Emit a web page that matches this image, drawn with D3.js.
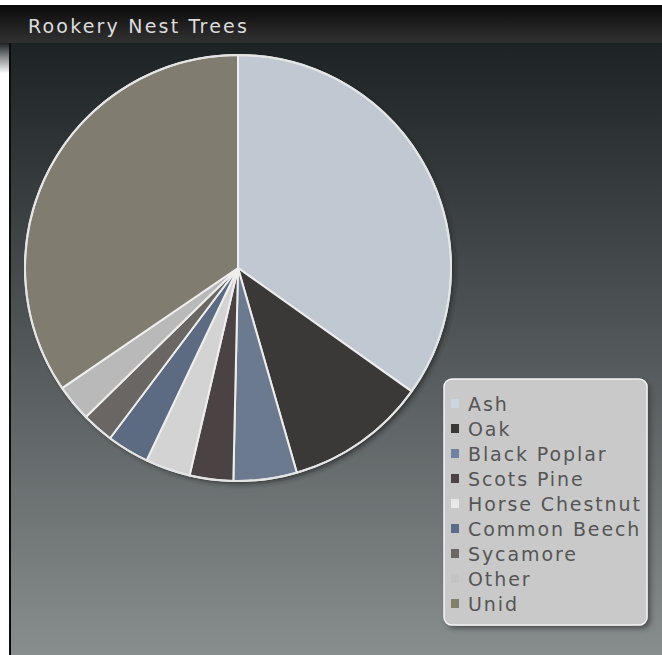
<!DOCTYPE html>
<html><head><meta charset="utf-8">
<script src="https://cdn.jsdelivr.net/npm/d3@7"></script>
<style>html,body{margin:0;padding:0;background:#fff;overflow:hidden}</style>
</head><body>
<svg id="c" width="662" height="655"></svg>
<script>
const categories = ["Ash","Oak","Black Poplar","Scots Pine","Horse Chestnut","Common Beech","Sycamore","Other","Unid"];
const values = [34.8,10.7,4.8,3.3,3.4,3.2,2.4,2.8,34.5];
const colors = ["#c0c9d1","#3b3937","#6b7a8e","#4a4243","#d3d3d3","#5c6b82","#6a6664","#b9b9b9","#807c6f"];
const swatchColors = ["#cbd6e2","#3a3836","#6f80a0","#4a4243","#e8e8e8","#5c6b8a","#6a6664","#c4c4c4","#827e6c"];
const title = "Rookery Nest Trees";

const svg = d3.select("#c");
const defs = svg.append("defs");
const tg = defs.append("linearGradient").attr("id","tg").attr("x1",0).attr("y1",0).attr("x2",0).attr("y2",1);
tg.append("stop").attr("offset","0").attr("stop-color","#0a0a0a");
tg.append("stop").attr("offset","0.85").attr("stop-color","#2c2c2c");
tg.append("stop").attr("offset","1").attr("stop-color","#303030");
const pg = defs.append("linearGradient").attr("id","pg").attr("x1",0).attr("y1",0).attr("x2",0).attr("y2",1);
pg.append("stop").attr("offset","0").attr("stop-color","#1d2225");
pg.append("stop").attr("offset","1").attr("stop-color","#888d8e");
const lg = defs.append("linearGradient").attr("id","lg").attr("x1",0).attr("y1",0).attr("x2",0).attr("y2",1);
lg.append("stop").attr("offset","0").attr("stop-color","#1d2225");
lg.append("stop").attr("offset","0.05").attr("stop-color","#ffffff");
lg.append("stop").attr("offset","1").attr("stop-color","#ffffff");
const f = defs.append("filter").attr("id","sh").attr("x","-20%").attr("y","-20%").attr("width","140%").attr("height","140%");
f.append("feDropShadow").attr("dx",3).attr("dy",3).attr("stdDeviation",2.5).attr("flood-color","#222").attr("flood-opacity",0.7);
const f2 = defs.append("filter").attr("id","sh2").attr("x","-20%").attr("y","-20%").attr("width","140%").attr("height","140%");
f2.append("feDropShadow").attr("dx",3).attr("dy",3).attr("stdDeviation",2.5).attr("flood-color","#333").attr("flood-opacity",0.6);

// backgrounds
svg.append("rect").attr("x",0).attr("y",43).attr("width",9).attr("height",612).attr("fill","url(#lg)");
svg.append("rect").attr("x",9).attr("y",43).attr("width",653).attr("height",612).attr("fill","url(#pg)");
svg.append("rect").attr("x",9).attr("y",43).attr("width",2).attr("height",612).attr("fill","#0c0c0c");
svg.append("rect").attr("x",0).attr("y",5).attr("width",662).attr("height",38).attr("fill","url(#tg)");

svg.append("text").attr("x",28).attr("y",33).text(title)
  .attr("font-family","DejaVu Sans").attr("font-size",19).attr("letter-spacing",2.2)
  .attr("fill","#dcdcdc");

// pie
const cx = 238, cy = 268, r = 213;
const pie = d3.pie().sort(null).value(d => d)(values);
const arc = d3.arc().innerRadius(0).outerRadius(r);
const g = svg.append("g").attr("transform",`translate(${cx},${cy})`);
g.append("circle").attr("r",r).attr("fill","#888").attr("filter","url(#sh)");
g.selectAll("path").data(pie).join("path")
  .attr("d",arc).attr("fill",(d,i)=>colors[i])
  .attr("stroke","#eeeeee").attr("stroke-width",2).attr("stroke-linejoin","round");
g.append("circle").attr("r",r).attr("fill","none").attr("stroke","#e4e4e4").attr("stroke-width",2);

// legend
const lx = 444, ly = 379, lw = 203, lh = 246;
svg.append("rect").attr("x",lx).attr("y",ly).attr("width",lw).attr("height",lh).attr("rx",8)
  .attr("fill","#c9c9c9").attr("stroke","#f4f4f4").attr("stroke-width",1.5).attr("filter","url(#sh2)");
const ys = d3.scaleLinear().domain([0, categories.length-1]).range([411, 611]);
const items = svg.append("g").selectAll("g").data(categories).join("g")
  .attr("transform",(d,i)=>`translate(0,${ys(i)})`);
items.append("rect").attr("x",451).attr("y",-12).attr("width",8).attr("height",9)
  .attr("fill",(d,i)=>swatchColors[i]);
items.append("text").attr("x",468).attr("y",0).text(d=>d)
  .attr("font-family","DejaVu Sans").attr("font-size",19).attr("letter-spacing",1.9)
  .attr("fill","#555555");
</script>
</body></html>
